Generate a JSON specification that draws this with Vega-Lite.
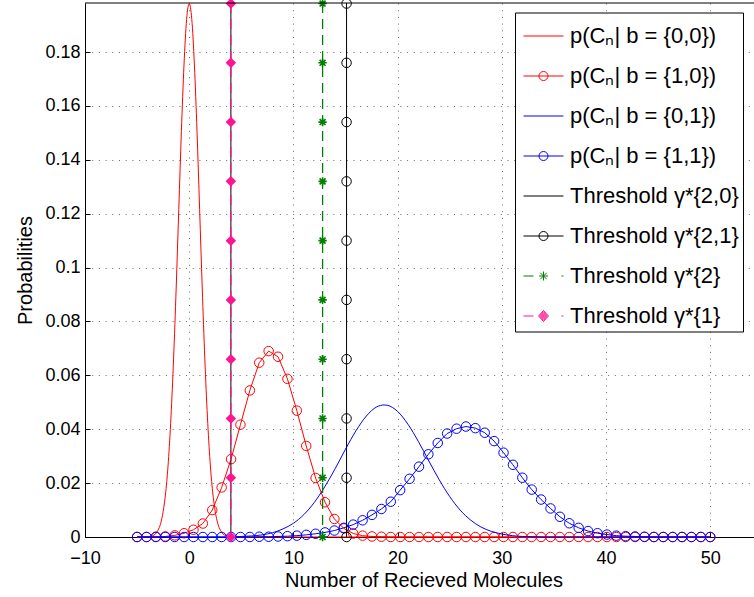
{
  "$schema": "https://vega.github.io/schema/vega-lite/v6.json",
  "width": 669,
  "height": 534,
  "autosize": {"type": "none"},
  "padding": {"left": 85, "top": 3, "right": 0, "bottom": 60},
  "background": "white",
  "config": {
    "view": {"stroke": null},
    "font": "Liberation Sans",
    "axis": {
      "domainColor": "black", "domainWidth": 1, "tickColor": "black", "tickSize": -5,
      "labelFontSize": 18, "labelColor": "black", "labelFont": "Liberation Sans",
      "titleFont": "Liberation Sans", "titleFontSize": 20, "titleFontWeight": "normal", "titleColor": "black",
      "gridColor": "#444", "gridDash": [1, 5.7], "gridWidth": 1, "gridOpacity": 0.8
    }
  },
  "datasets": {
    "curves": [
      {"s": "p00", "x": -5, "y": 0}, {"s": "p00", "x": -4.5, "y": 0}, {"s": "p00", "x": -4, "y": 0.0001},
      {"s": "p00", "x": -3.75, "y": 0.0002}, {"s": "p00", "x": -3.5, "y": 0.0005}, {"s": "p00", "x": -3.25, "y": 0.0011},
      {"s": "p00", "x": -3, "y": 0.0025}, {"s": "p00", "x": -2.75, "y": 0.0049}, {"s": "p00", "x": -2.5, "y": 0.0094},
      {"s": "p00", "x": -2.25, "y": 0.0168}, {"s": "p00", "x": -2, "y": 0.0281}, {"s": "p00", "x": -1.75, "y": 0.0445},
      {"s": "p00", "x": -1.5, "y": 0.0661}, {"s": "p00", "x": -1.25, "y": 0.0924}, {"s": "p00", "x": -1, "y": 0.1216},
      {"s": "p00", "x": -0.75, "y": 0.1505}, {"s": "p00", "x": -0.5, "y": 0.1752}, {"s": "p00", "x": -0.25, "y": 0.1921},
      {"s": "p00", "x": 0, "y": 0.198},
      {"s": "p00", "x": 0.25, "y": 0.1921}, {"s": "p00", "x": 0.5, "y": 0.1752}, {"s": "p00", "x": 0.75, "y": 0.1505},
      {"s": "p00", "x": 1, "y": 0.1216}, {"s": "p00", "x": 1.25, "y": 0.0924}, {"s": "p00", "x": 1.5, "y": 0.0661},
      {"s": "p00", "x": 1.75, "y": 0.0445}, {"s": "p00", "x": 2, "y": 0.0281}, {"s": "p00", "x": 2.25, "y": 0.0168},
      {"s": "p00", "x": 2.5, "y": 0.0094}, {"s": "p00", "x": 2.75, "y": 0.0049}, {"s": "p00", "x": 3, "y": 0.0025},
      {"s": "p00", "x": 3.25, "y": 0.0011}, {"s": "p00", "x": 3.5, "y": 0.0005}, {"s": "p00", "x": 3.75, "y": 0.0002},
      {"s": "p00", "x": 4, "y": 0.0001}, {"s": "p00", "x": 4.5, "y": 0}, {"s": "p00", "x": 50, "y": 0},
      {"s": "p01", "x": -5, "y": 0}, {"s": "p01", "x": 4, "y": 0}, {"s": "p01", "x": 5, "y": 0.0002},
      {"s": "p01", "x": 6, "y": 0.0004}, {"s": "p01", "x": 7, "y": 0.0008}, {"s": "p01", "x": 8, "y": 0.0016},
      {"s": "p01", "x": 9, "y": 0.003}, {"s": "p01", "x": 10, "y": 0.0051}, {"s": "p01", "x": 11, "y": 0.0083},
      {"s": "p01", "x": 12, "y": 0.0128}, {"s": "p01", "x": 13, "y": 0.0186}, {"s": "p01", "x": 14, "y": 0.0253},
      {"s": "p01", "x": 15, "y": 0.0326}, {"s": "p01", "x": 16, "y": 0.0394}, {"s": "p01", "x": 17, "y": 0.0449},
      {"s": "p01", "x": 18, "y": 0.0483}, {"s": "p01", "x": 18.7, "y": 0.049}, {"s": "p01", "x": 19, "y": 0.0489},
      {"s": "p01", "x": 20, "y": 0.0466}, {"s": "p01", "x": 21, "y": 0.0418}, {"s": "p01", "x": 22, "y": 0.0354},
      {"s": "p01", "x": 23, "y": 0.0282}, {"s": "p01", "x": 24, "y": 0.0212}, {"s": "p01", "x": 25, "y": 0.015},
      {"s": "p01", "x": 26, "y": 0.01}, {"s": "p01", "x": 27, "y": 0.0063}, {"s": "p01", "x": 28, "y": 0.0037},
      {"s": "p01", "x": 29, "y": 0.0021}, {"s": "p01", "x": 30, "y": 0.0011}, {"s": "p01", "x": 31, "y": 0.0005},
      {"s": "p01", "x": 32, "y": 0.0002}, {"s": "p01", "x": 33, "y": 0.0001}, {"s": "p01", "x": 34, "y": 0},
      {"s": "p01", "x": 50, "y": 0}
    ],
    "markers": [
      {"s": "p10", "x": -5, "y": 0}, {"s": "p10", "x": -4.098, "y": 0}, {"s": "p10", "x": -3.197, "y": 0.0001},
      {"s": "p10", "x": -2.295, "y": 0.0002}, {"s": "p10", "x": -1.393, "y": 0.0006}, {"s": "p10", "x": -0.492, "y": 0.0014},
      {"s": "p10", "x": 0.41, "y": 0.0027}, {"s": "p10", "x": 1.311, "y": 0.005}, {"s": "p10", "x": 2.213, "y": 0.01},
      {"s": "p10", "x": 3.115, "y": 0.0184}, {"s": "p10", "x": 4.016, "y": 0.0289}, {"s": "p10", "x": 4.918, "y": 0.0417},
      {"s": "p10", "x": 5.82, "y": 0.0544}, {"s": "p10", "x": 6.721, "y": 0.0647}, {"s": "p10", "x": 7.623, "y": 0.069},
      {"s": "p10", "x": 8.525, "y": 0.0669}, {"s": "p10", "x": 9.426, "y": 0.0587}, {"s": "p10", "x": 10.328, "y": 0.0469},
      {"s": "p10", "x": 11.23, "y": 0.0338}, {"s": "p10", "x": 12.131, "y": 0.0219}, {"s": "p10", "x": 13.033, "y": 0.0129},
      {"s": "p10", "x": 13.934, "y": 0.0067}, {"s": "p10", "x": 14.836, "y": 0.0032}, {"s": "p10", "x": 15.738, "y": 0.0013},
      {"s": "p10", "x": 16.639, "y": 0.0005}, {"s": "p10", "x": 17.541, "y": 0.0002}, {"s": "p10", "x": 18.443, "y": 0.0001},
      {"s": "p10", "x": 19.344, "y": 0}, {"s": "p10", "x": 20.246, "y": 0}, {"s": "p10", "x": 21.148, "y": 0},
      {"s": "p10", "x": 22.049, "y": 0}, {"s": "p10", "x": 22.951, "y": 0}, {"s": "p10", "x": 23.852, "y": 0},
      {"s": "p10", "x": 24.754, "y": 0}, {"s": "p10", "x": 25.656, "y": 0}, {"s": "p10", "x": 26.557, "y": 0},
      {"s": "p10", "x": 27.459, "y": 0}, {"s": "p10", "x": 28.361, "y": 0}, {"s": "p10", "x": 29.262, "y": 0},
      {"s": "p10", "x": 30.164, "y": 0}, {"s": "p10", "x": 31.066, "y": 0}, {"s": "p10", "x": 31.967, "y": 0},
      {"s": "p10", "x": 32.869, "y": 0}, {"s": "p10", "x": 33.77, "y": 0}, {"s": "p10", "x": 34.672, "y": 0},
      {"s": "p10", "x": 35.574, "y": 0}, {"s": "p10", "x": 36.475, "y": 0}, {"s": "p10", "x": 37.377, "y": 0},
      {"s": "p10", "x": 38.279, "y": 0}, {"s": "p10", "x": 39.18, "y": 0}, {"s": "p10", "x": 40.082, "y": 0},
      {"s": "p10", "x": 40.984, "y": 0}, {"s": "p10", "x": 41.885, "y": 0}, {"s": "p10", "x": 42.787, "y": 0},
      {"s": "p10", "x": 43.689, "y": 0}, {"s": "p10", "x": 44.59, "y": 0}, {"s": "p10", "x": 45.492, "y": 0},
      {"s": "p10", "x": 46.393, "y": 0}, {"s": "p10", "x": 47.295, "y": 0}, {"s": "p10", "x": 48.197, "y": 0},
      {"s": "p10", "x": 49.098, "y": 0}, {"s": "p10", "x": 50, "y": 0},
      {"s": "p11", "x": -5, "y": 0}, {"s": "p11", "x": -4.098, "y": 0}, {"s": "p11", "x": -3.197, "y": 0},
      {"s": "p11", "x": -2.295, "y": 0}, {"s": "p11", "x": -1.393, "y": 0}, {"s": "p11", "x": -0.492, "y": 0},
      {"s": "p11", "x": 0.41, "y": 0}, {"s": "p11", "x": 1.311, "y": 0}, {"s": "p11", "x": 2.213, "y": 0},
      {"s": "p11", "x": 3.115, "y": 0}, {"s": "p11", "x": 4.016, "y": 0}, {"s": "p11", "x": 4.918, "y": 0},
      {"s": "p11", "x": 5.82, "y": 0}, {"s": "p11", "x": 6.721, "y": 0.0001}, {"s": "p11", "x": 7.623, "y": 0.0001},
      {"s": "p11", "x": 8.525, "y": 0.0002}, {"s": "p11", "x": 9.426, "y": 0.0003}, {"s": "p11", "x": 10.328, "y": 0.0005},
      {"s": "p11", "x": 11.23, "y": 0.0008}, {"s": "p11", "x": 12.131, "y": 0.0012}, {"s": "p11", "x": 13.033, "y": 0.0017},
      {"s": "p11", "x": 13.934, "y": 0.0024}, {"s": "p11", "x": 14.836, "y": 0.0034}, {"s": "p11", "x": 15.738, "y": 0.0046},
      {"s": "p11", "x": 16.639, "y": 0.0062}, {"s": "p11", "x": 17.541, "y": 0.0082}, {"s": "p11", "x": 18.443, "y": 0.0104},
      {"s": "p11", "x": 19.344, "y": 0.0131}, {"s": "p11", "x": 20.246, "y": 0.0174}, {"s": "p11", "x": 21.148, "y": 0.0216},
      {"s": "p11", "x": 22.049, "y": 0.0261}, {"s": "p11", "x": 22.951, "y": 0.0307}, {"s": "p11", "x": 23.852, "y": 0.0349},
      {"s": "p11", "x": 24.754, "y": 0.0384}, {"s": "p11", "x": 25.656, "y": 0.0402}, {"s": "p11", "x": 26.557, "y": 0.041},
      {"s": "p11", "x": 27.459, "y": 0.0404}, {"s": "p11", "x": 28.361, "y": 0.0387}, {"s": "p11", "x": 29.262, "y": 0.0356},
      {"s": "p11", "x": 30.164, "y": 0.0313}, {"s": "p11", "x": 31.066, "y": 0.0268}, {"s": "p11", "x": 31.967, "y": 0.022},
      {"s": "p11", "x": 32.869, "y": 0.0176}, {"s": "p11", "x": 33.77, "y": 0.0139}, {"s": "p11", "x": 34.672, "y": 0.0106},
      {"s": "p11", "x": 35.574, "y": 0.0075}, {"s": "p11", "x": 36.475, "y": 0.0051}, {"s": "p11", "x": 37.377, "y": 0.0034},
      {"s": "p11", "x": 38.279, "y": 0.0022}, {"s": "p11", "x": 39.18, "y": 0.0014}, {"s": "p11", "x": 40.082, "y": 0.0009},
      {"s": "p11", "x": 40.984, "y": 0.0005}, {"s": "p11", "x": 41.885, "y": 0.0003}, {"s": "p11", "x": 42.787, "y": 0.0002},
      {"s": "p11", "x": 43.689, "y": 0.0001}, {"s": "p11", "x": 44.59, "y": 0}, {"s": "p11", "x": 45.492, "y": 0},
      {"s": "p11", "x": 46.393, "y": 0}, {"s": "p11", "x": 47.295, "y": 0}, {"s": "p11", "x": 48.197, "y": 0},
      {"s": "p11", "x": 49.098, "y": 0}, {"s": "p11", "x": 50, "y": 0}
    ],
    "thr": [
      {"s": "g20", "x": 4}, {"s": "g21", "x": 15.1}, {"s": "g2", "x": 12.8}, {"s": "g1", "x": 4}
    ],
    "thrm": [
      {"s": "g21", "x": 15.1, "y": 0}, {"s": "g21", "x": 15.1, "y": 0.022}, {"s": "g21", "x": 15.1, "y": 0.044},
      {"s": "g21", "x": 15.1, "y": 0.066}, {"s": "g21", "x": 15.1, "y": 0.088}, {"s": "g21", "x": 15.1, "y": 0.11},
      {"s": "g21", "x": 15.1, "y": 0.132}, {"s": "g21", "x": 15.1, "y": 0.154}, {"s": "g21", "x": 15.1, "y": 0.176},
      {"s": "g21", "x": 15.1, "y": 0.198},
      {"s": "g2", "x": 12.8, "y": 0}, {"s": "g2", "x": 12.8, "y": 0.022}, {"s": "g2", "x": 12.8, "y": 0.044},
      {"s": "g2", "x": 12.8, "y": 0.066}, {"s": "g2", "x": 12.8, "y": 0.088}, {"s": "g2", "x": 12.8, "y": 0.11},
      {"s": "g2", "x": 12.8, "y": 0.132}, {"s": "g2", "x": 12.8, "y": 0.154}, {"s": "g2", "x": 12.8, "y": 0.176},
      {"s": "g2", "x": 12.8, "y": 0.198},
      {"s": "g1", "x": 4, "y": 0}, {"s": "g1", "x": 4, "y": 0.022}, {"s": "g1", "x": 4, "y": 0.044},
      {"s": "g1", "x": 4, "y": 0.066}, {"s": "g1", "x": 4, "y": 0.088}, {"s": "g1", "x": 4, "y": 0.11},
      {"s": "g1", "x": 4, "y": 0.132}, {"s": "g1", "x": 4, "y": 0.154}, {"s": "g1", "x": 4, "y": 0.176},
      {"s": "g1", "x": 4, "y": 0.198}
    ],
    "leg": [
      {"s": "p00"}, {"s": "p10"}, {"s": "p01"}, {"s": "p11"}, {"s": "g20"}, {"s": "g21"}, {"s": "g2"}, {"s": "g1"}
    ]
  },
  "layer": [
    {"data": {"name": "curves"}, "transform": [{"filter": "datum.s === 'p00'"}],
     "mark": {"type": "line", "color": "#FF0000", "strokeWidth": 1, "interpolate": "monotone"},
     "encoding": {
       "x": {"field": "x", "type": "quantitative",
         "scale": {"domain": [-10, 54.2], "nice": false, "zero": false},
         "axis": {"values": [-10, 0, 10, 20, 30, 40, 50], "title": "Number of Recieved Molecules", "labelPadding": 17.4, "titleX": 338.5, "titlePadding": 3, "grid": true, "labelFlush": false}},
       "y": {"field": "y", "type": "quantitative",
         "scale": {"domain": [0, 0.1982], "nice": false},
         "axis": {"values": [0, 0.02, 0.04, 0.06, 0.08, 0.1, 0.12, 0.14, 0.16, 0.18], "format": ".2~f", "title": "Probabilities", "labelPadding": 10, "titlePadding": 9, "grid": true, "labelFlush": false}}
     }},
    {"data": {"name": "markers"}, "transform": [{"filter": "datum.s === 'p10'"}],
     "mark": {"type": "line", "color": "#FF0000", "strokeWidth": 1},
     "encoding": {"x": {"field": "x", "type": "quantitative"}, "y": {"field": "y", "type": "quantitative"}}},
    {"data": {"name": "markers"}, "transform": [{"filter": "datum.s === 'p10'"}],
     "mark": {"type": "point", "shape": "circle", "filled": false, "color": "#FF0000", "size": 90, "strokeWidth": 1, "opacity": 1},
     "encoding": {"x": {"field": "x", "type": "quantitative"}, "y": {"field": "y", "type": "quantitative"}}},
    {"data": {"name": "curves"}, "transform": [{"filter": "datum.s === 'p01'"}],
     "mark": {"type": "line", "color": "#0000FF", "strokeWidth": 1, "interpolate": "monotone"},
     "encoding": {"x": {"field": "x", "type": "quantitative"}, "y": {"field": "y", "type": "quantitative"}}},
    {"data": {"name": "markers"}, "transform": [{"filter": "datum.s === 'p11'"}],
     "mark": {"type": "line", "color": "#0000FF", "strokeWidth": 1},
     "encoding": {"x": {"field": "x", "type": "quantitative"}, "y": {"field": "y", "type": "quantitative"}}},
    {"data": {"name": "markers"}, "transform": [{"filter": "datum.s === 'p11'"}],
     "mark": {"type": "point", "shape": "circle", "filled": false, "color": "#0000FF", "size": 90, "strokeWidth": 1, "opacity": 1},
     "encoding": {"x": {"field": "x", "type": "quantitative"}, "y": {"field": "y", "type": "quantitative"}}},
    {"data": {"name": "thr"}, "transform": [{"filter": "datum.s === 'g20'"}],
     "mark": {"type": "rule", "color": "#000000", "strokeWidth": 1},
     "encoding": {"x": {"field": "x", "type": "quantitative"}}},
    {"data": {"name": "thr"}, "transform": [{"filter": "datum.s === 'g21'"}],
     "mark": {"type": "rule", "color": "#000000", "strokeWidth": 1},
     "encoding": {"x": {"field": "x", "type": "quantitative"}}},
    {"data": {"name": "thrm"}, "transform": [{"filter": "datum.s === 'g21'"}],
     "mark": {"type": "point", "shape": "circle", "filled": false, "color": "#000000", "size": 90, "strokeWidth": 1, "opacity": 1},
     "encoding": {"x": {"field": "x", "type": "quantitative"}, "y": {"field": "y", "type": "quantitative"}}},
    {"data": {"name": "thr"}, "transform": [{"filter": "datum.s === 'g2'"}],
     "mark": {"type": "rule", "color": "#008000", "strokeWidth": 1.3, "strokeDash": [10, 6]},
     "encoding": {"x": {"field": "x", "type": "quantitative"}}},
    {"data": {"name": "thrm"}, "transform": [{"filter": "datum.s === 'g2'"}],
     "mark": {"type": "point", "shape": "M-1,0H1M0,-1V1M-0.71,-0.71L0.71,0.71M-0.71,0.71L0.71,-0.71", "filled": false, "color": "#008000", "size": 70, "strokeWidth": 1.6, "opacity": 1},
     "encoding": {"x": {"field": "x", "type": "quantitative"}, "y": {"field": "y", "type": "quantitative"}}},
    {"data": {"name": "thr"}, "transform": [{"filter": "datum.s === 'g1'"}],
     "mark": {"type": "rule", "color": "#FF1493", "strokeWidth": 1.3, "strokeDash": [10, 6]},
     "encoding": {"x": {"field": "x", "type": "quantitative"}}},
    {"data": {"name": "thrm"}, "transform": [{"filter": "datum.s === 'g1'"}],
     "mark": {"type": "point", "shape": "diamond", "filled": true, "color": "#FF1493", "size": 110, "strokeWidth": 1, "opacity": 1},
     "encoding": {"x": {"field": "x", "type": "quantitative"}, "y": {"field": "y", "type": "quantitative"}}},
    {"data": {"values": [{"y": 0.1982}]},
     "mark": {"type": "rule", "color": "#000000", "strokeWidth": 1},
     "encoding": {"y": {"field": "y", "type": "quantitative"}}},
    {"data": {"name": "leg"},
     "mark": {"type": "point", "filled": false, "strokeWidth": 1, "opacity": 1},
     "encoding": {
       "x": {"field": "x", "type": "quantitative"},
       "y": {"field": "y", "type": "quantitative"},
       "color": {"field": "s", "type": "nominal",
         "scale": {"domain": ["p00", "p10", "p01", "p11", "g20", "g21", "g2", "g1"],
                   "range": ["#FF0000", "#FF0000", "#0000FF", "#0000FF", "#000000", "#000000", "#008000", "#FF1493"]},
         "legend": {
           "orient": "none", "legendX": 430, "legendY": 9.5, "direction": "vertical", "title": null,
           "padding": 4, "rowPadding": 9, "symbolSize": 1444, "symbolOffset": 5, "labelOffset": 7,
           "labelFontSize": 22, "labelFont": "Liberation Sans", "labelColor": "black", "labelLimit": 400,
           "strokeColor": "black", "fillColor": "white", "cornerRadius": 0, "symbolStrokeWidth": 1,
           "labelExpr": "{'p00':'p(Cₙ| b = {0,0})','p10':'p(Cₙ| b = {1,0})','p01':'p(Cₙ| b = {0,1})','p11':'p(Cₙ| b = {1,1})','g20':'Threshold γ*{2,0}','g21':'Threshold γ*{2,1}','g2':'Threshold γ*{2}','g1':'Threshold γ*{1}'}[datum.value]"
         }},
       "shape": {"field": "s", "type": "nominal",
         "scale": {"domain": ["p00", "p10", "p01", "p11", "g20", "g21", "g2", "g1"],
                   "range": [
                     "M-1.053,0H1.053",
                     "M-1.053,0H1.053M0.237,0A0.237,0.237,0,1,1,-0.237,0A0.237,0.237,0,1,1,0.237,0",
                     "M-1.05,0H1.05",
                     "M-1.053,0H1.053M0.237,0A0.237,0.237,0,1,1,-0.237,0A0.237,0.237,0,1,1,0.237,0",
                     "M-1.052,0H1.052",
                     "M-1.053,0H1.053M0.237,0A0.237,0.237,0,1,1,-0.237,0A0.237,0.237,0,1,1,0.237,0",
                     "M-1.053,0H-0.526M0.947,0H1.053M-0.237,0H0.237M0,-0.237V0.237M-0.168,-0.168L0.168,0.168M-0.168,0.168L0.168,-0.168",
                     "M-1.053,0H-0.526M0.947,0H1.053M0,-0.29L0.26,0L0,0.29L-0.26,0ZM0,-0.23L0.206,0L0,0.23L-0.206,0ZM0,-0.17L0.152,0L0,0.17L-0.152,0ZM0,-0.11L0.098,0L0,0.11L-0.098,0ZM0,-0.05L0.045,0L0,0.05L-0.045,0Z"
                   ]},
         "legend": null}
     }}
  ]
}
